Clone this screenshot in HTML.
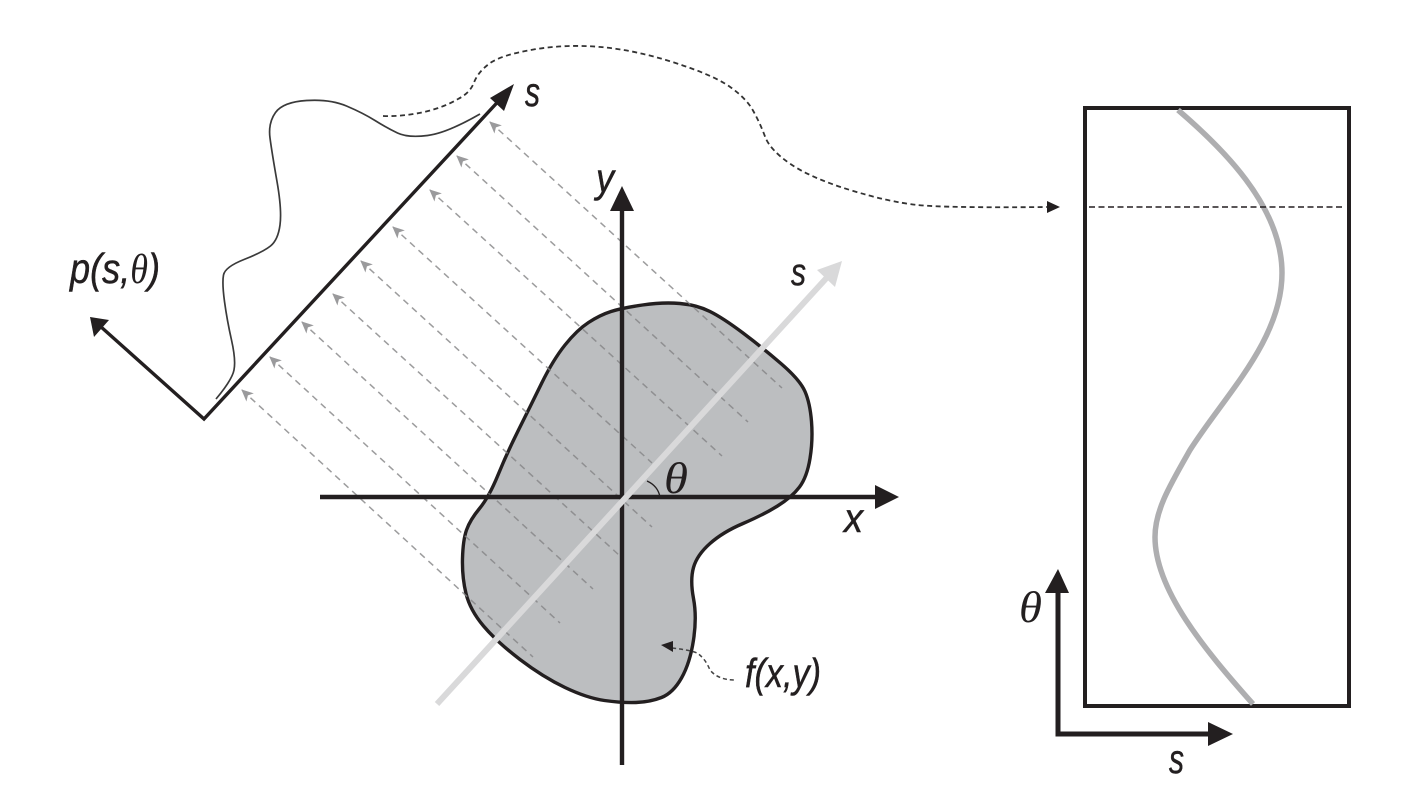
<!DOCTYPE html>
<html>
<head>
<meta charset="utf-8">
<style>
html,body{margin:0;padding:0;background:#fff;width:1408px;height:803px;overflow:hidden}
svg{display:block;filter:blur(0.35px)}
text{fill:#231f20;font-family:"Liberation Sans",sans-serif;font-style:italic;stroke:#231f20;stroke-width:0.5px}
.th{font-family:"Liberation Serif",serif;stroke-width:0}
</style>
</head>
<body>
<svg width="1408" height="803" viewBox="0 0 1408 803" xmlns="http://www.w3.org/2000/svg">
<defs>
<marker id="chev" markerUnits="userSpaceOnUse" markerWidth="16" markerHeight="14" viewBox="-1 -7 16 14" refX="0" refY="0" orient="auto-start-reverse" overflow="visible">
<path d="M-1,0 L11,-5.5 L8,0 L11,5.5 Z" transform="rotate(180)" fill="#9a9a9c"/>
</marker>
</defs>

<!-- blob -->
<path d="M611,311.5 Q622,308 642.5,305 Q663,302 680,303.5 Q697,305 710,311.5 Q723,318 743,333 Q763,348 781.5,364 Q800,380 805,391.5 Q810,403 811.5,421.5 Q813,440 810,458.5 Q807,477 799.5,487 Q792,497 777.5,506 Q763,515 743,523.5 Q723,532 710,543.5 Q697,555 693.5,567.5 Q690,580 693.5,598.5 Q697,617 693.5,640 Q690,663 681.5,678 Q673,693 661.5,697.5 Q650,702 636,702.5 Q622,703 604.5,700.5 Q587,698 565,687.5 Q543,677 520,659.5 Q497,642 483.5,626 Q470,610 466,593.5 Q462,577 462.5,558.5 Q463,540 466.5,530 Q470,520 479.5,508.5 Q489,497 498,475 Q507,453 518.5,430 Q530,407 541.5,383.5 Q553,360 565,345 Q577,330 588.5,322.5 Q600,315 611,311.5 Z" fill="#bcbec0" stroke="#231f20" stroke-width="3.4"/>

<!-- projection rays -->
<g stroke="#838385" stroke-width="1.5" stroke-dasharray="6.5 5" fill="none" stroke-opacity="0.8">
<line x1="490" y1="122" x2="782" y2="388" marker-start="url(#chev)"/>
<line x1="457" y1="156" x2="748" y2="422" marker-start="url(#chev)"/>
<line x1="430" y1="190" x2="722" y2="456" marker-start="url(#chev)"/>
<line x1="393" y1="227" x2="652" y2="463" marker-start="url(#chev)"/>
<line x1="361" y1="261" x2="652" y2="527" marker-start="url(#chev)"/>
<line x1="333" y1="294" x2="620" y2="556" marker-start="url(#chev)"/>
<line x1="302" y1="322" x2="593" y2="589" marker-start="url(#chev)"/>
<line x1="270" y1="357" x2="560" y2="623" marker-start="url(#chev)"/>
<line x1="242" y1="390" x2="533" y2="657" marker-start="url(#chev)"/>
</g>

<!-- main axes -->
<line x1="320" y1="497" x2="878" y2="497" stroke="#231f20" stroke-width="4.4"/>
<polygon points="899,497 875,485 875,509" fill="#231f20"/>
<line x1="622" y1="765" x2="622" y2="208" stroke="#231f20" stroke-width="4.4"/>
<polygon points="622,186 610,211 634,211" fill="#231f20"/>

<!-- gray s axis -->
<line x1="437" y1="704" x2="832" y2="272" stroke="#d9d9da" stroke-width="6"/>
<polygon points="842,261 817,270 835,287" fill="#d9d9da"/>

<!-- angle arc -->
<path d="M647,481 Q658,486 660,497" fill="none" stroke="#231f20" stroke-width="1.3"/>

<!-- rotated axes -->
<polyline points="100,326 204,419 506,93" fill="none" stroke="#231f20" stroke-width="3.4"/>
<polygon points="514,84 490,98 504,111" fill="#231f20"/>
<polygon points="90,317 94,337 109,320" fill="#231f20"/>

<!-- profile -->
<path d="M480,114 Q447,133 427.5,135.5 Q408,138 397.5,133 Q387,128 375,120.5 Q363,113 346.5,106 Q330,99 306.5,100.5 Q283,102 275.5,112.5 Q268,123 270,138 Q272,153 277,181.5 Q282,210 280,225 Q278,240 270.5,246 Q263,252 244,259.5 Q225,267 223.5,275 Q222,283 224.5,301.5 Q227,320 231.5,340 Q236,360 234,370 Q232,380 216,399" fill="none" stroke="#3a3a3a" stroke-width="1.7"/>

<!-- big dashed connector -->
<path d="M383,116 C410,117 440,110 458,99 Q470,93 474,82.5 Q478,72 489.5,63.5 Q501,55 533.5,49.5 Q566,44 600.5,47 Q635,50 674,62.5 Q713,75 729.5,86.5 Q746,98 753,110.5 Q760,123 765,136.5 Q770,150 790.5,164 Q811,178 850,190 Q889,202 917.5,205 Q946,208 1048,207" fill="none" stroke="#333" stroke-width="1.8" stroke-dasharray="5 3.5"/>
<polygon points="1060,207 1047,201 1047,213" fill="#231f20"/>

<!-- sinogram box -->
<rect x="1085" y="108" width="264" height="598" fill="none" stroke="#231f20" stroke-width="4"/>
<path d="M1178,110 C1220,146 1282,205 1282,273 C1282,340 1225,395 1190,450 C1170,485 1155,510 1155,537 C1155,590 1205,650 1253,704" fill="none" stroke="#aeaeb0" stroke-width="5.5"/>
<line x1="1089" y1="207" x2="1342" y2="207" stroke="#231f20" stroke-width="1.6" stroke-dasharray="6 3.5"/>

<!-- sinogram axes -->
<polyline points="1058,593 1058,734 1210,734" fill="none" stroke="#231f20" stroke-width="5"/>
<polygon points="1058,569 1045,593 1069,593" fill="#231f20"/>
<polygon points="1233,734 1208,722 1208,746" fill="#231f20"/>

<!-- small f(x,y) pointer -->
<path d="M672,648 Q690,650 697,653 Q705,658 710,670 Q718,680 735,680" fill="none" stroke="#444" stroke-width="1.5" stroke-dasharray="4 3"/>
<polygon points="661,645 673,641 673,652" fill="#231f20"/>

<!-- labels -->
<text x="525" y="106" font-size="41" textLength="15" lengthAdjust="spacingAndGlyphs">s</text>
<text x="791" y="285" font-size="38" textLength="15" lengthAdjust="spacingAndGlyphs">s</text>
<text x="596" y="192" font-size="41" textLength="18" lengthAdjust="spacingAndGlyphs">y</text>
<text x="844" y="532" font-size="41" textLength="19" lengthAdjust="spacingAndGlyphs">x</text>
<text x="1169" y="773" font-size="41" textLength="15" lengthAdjust="spacingAndGlyphs">s</text>
<text x="745" y="687" font-size="41" textLength="76" lengthAdjust="spacingAndGlyphs">f(x,y)</text>
<text x="70" y="283" font-size="42" textLength="90" lengthAdjust="spacingAndGlyphs">p(s,<tspan class="th">θ</tspan>)</text>
<text class="th" x="664" y="493" font-size="44" textLength="24" lengthAdjust="spacingAndGlyphs">θ</text>
<text class="th" x="1019" y="622" font-size="44" textLength="23" lengthAdjust="spacingAndGlyphs">θ</text>
</svg>
</body>
</html>
